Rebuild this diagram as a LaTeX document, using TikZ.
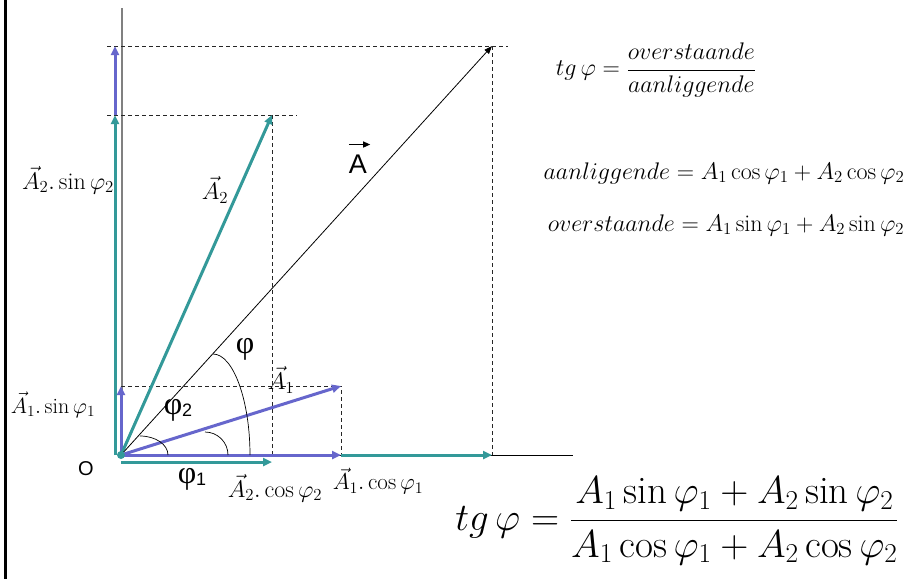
\RequirePackage{fix-cm}
\documentclass[tikz,border=0pt]{standalone}
\usepackage{fontspec}
\newfontfamily\sansf{Liberation Sans}
\newfontfamily\serff{Liberation Serif}
\usetikzlibrary{arrows.meta,calc}
\definecolor{vpurple}{RGB}{102,102,204}
\definecolor{vteal}{RGB}{51,153,153}
\newcommand{\phisub}[1]{{\serff\fontsize{32}{34}\selectfont φ}\raisebox{-0.5ex}{\sansf\fontsize{18}{20}\selectfont #1}}
\begin{document}
\begin{tikzpicture}[x=1pt,y=-1pt,
  vec/.style={line width=3pt,-{Triangle[length=9pt,width=8pt]}},
  proj/.style={dash pattern=on 4pt off 3pt, line width=0.8pt, black!85},
  lbl/.style={font=\fontsize{24}{28}\selectfont, inner sep=0pt},
  angarc/.style={line width=0.7pt}]
\useasboundingbox (0,0) rectangle (913,579);
\fill[white] (0,0) rectangle (913,579);
\draw[line width=3pt] (5,0) -- (5,579);
% points
\coordinate (O) at (121,455);
\coordinate (P1) at (341,386);
\coordinate (P2) at (272,115);
\coordinate (PA) at (492,46);
\coordinate (X1) at (341,455);
\coordinate (X2) at (272,462);
\coordinate (XA) at (492,455);
\coordinate (Y1) at (121,386);
\coordinate (Y2) at (115,115);
\coordinate (YA) at (115,46);
\coordinate (O2) at (121,462);
\coordinate (O3) at (115,455);
\coordinate (axB) at (122,455);
\coordinate (axT) at (122,8);
\coordinate (axR) at (573,455);
% axes
\draw[gray, line width=1.3pt] (axB) -- (axT);
\draw[line width=0.9pt] (O) -- (axR);
% projections
\draw[proj] (107,46) -- (508,46);
\draw[proj] (PA) -- (XA);
\draw[proj] (107,115) -- (297,115);
\draw[proj] (P2) -- (272,455);
\draw[proj] (Y1) -- (P1) -- (X1);
% vectors
\draw[vec,vteal] (O3) -- (Y2);
\draw[vec,vpurple] (Y2) -- (YA);
\draw[vec,vpurple] (O) -- (Y1);
\draw[vec,vteal] (O2) -- (X2);
\draw[vec,vpurple] (O) -- (X1);
\draw[vec,vteal] (X1) -- (XA);
\draw[vec,vteal] (O) -- (P2);
\draw[vec,vpurple] (O) -- (P1);
\draw[line width=0.8pt,-{Triangle[length=8pt,width=6pt]}] (O) -- (PA);
\fill[vteal] (O) circle (4);
% angle arcs
\draw[angarc] (213,354) .. controls (233.4,354) and (250,400.9) .. (250,455);
\draw[angarc] (140,436) .. controls (155.5,436) and (168,444.5) .. (168,455);
\draw[angarc] (205,432) .. controls (217.7,432) and (228,442.3) .. (228,455);
% labels
\node[inner sep=0pt, font=\serff\fontsize{32}{34}\selectfont] (phi) at (245,349) {φ};
\node[inner sep=0pt] (phi2) at (178,410) {\phisub{2}};
\node[inner sep=0pt] (phi1) at (192,479) {\phisub{1}};
\node[font=\sansf\fontsize{20}{22}\selectfont, inner sep=0pt] (olab) at (86,469) {O};
\node[font=\sansf\fontsize{27}{28}\selectfont, inner sep=0pt] (alab) at (358,164) {A};
\draw[line width=1.2pt,-{Triangle[length=7pt,width=6pt]}] ($(alab.north west)+(0,-10)$) -- ($(alab.north east)+(3,-10)$);
\node[lbl] (a2lab) at (215,190) {$\vec{A}_2$};
\node[lbl] (a1lab) at (281,380) {$\vec{A}_1$};
\node[lbl] (a2s) at (68,180) {$\vec{A}_2.\sin\varphi_2$};
\node[lbl,font=\fontsize{22}{26}\selectfont] (a1s) at (53,405) {$\vec{A}_1.\sin\varphi_1$};
\node[lbl,font=\fontsize{24}{28}\selectfont] (a2c) at (275,488) {$\vec{A}_2.\cos\varphi_2$};
\node[lbl,font=\fontsize{23}{26}\selectfont] (a1c) at (378,481) {$\vec{A}_1.\cos\varphi_1$};
% formulas
\node[lbl] (f1) at (656,70) {$\displaystyle tg\,\varphi = \frac{overstaande}{aanliggende}$};
\node[lbl] (f2) at (724,173) {$aanliggende = A_1\cos\varphi_1 + A_2\cos\varphi_2$};
\node[lbl] (f3) at (726,225) {$overstaande = A_1\sin\varphi_1 + A_2\sin\varphi_2$};
\node[font=\fontsize{39}{44}\selectfont, inner sep=0pt] (f4) at (677,521) {$\displaystyle tg\,\varphi = \frac{A_1\sin\varphi_1 + A_2\sin\varphi_2}{A_1\cos\varphi_1 + A_2\cos\varphi_2}$};
\end{tikzpicture}
\end{document}
